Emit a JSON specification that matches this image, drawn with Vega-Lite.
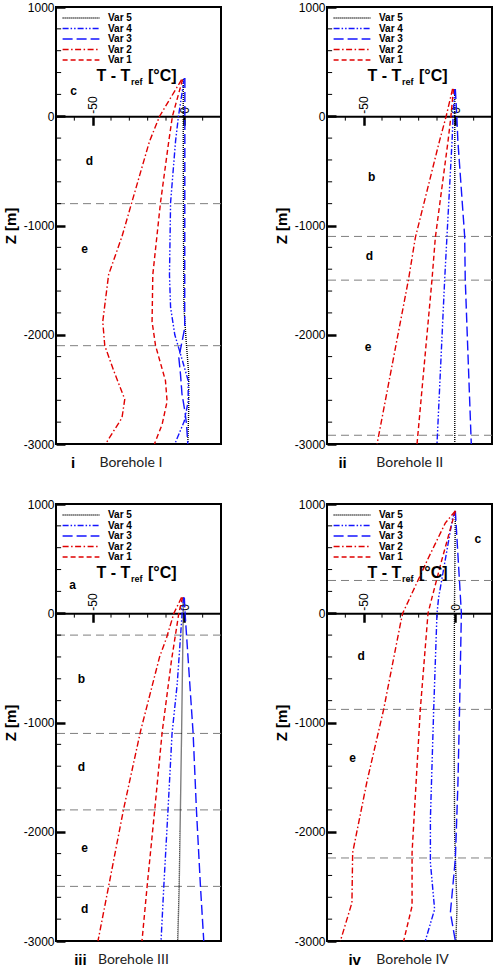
{
"$schema":"https://vega.github.io/schema/vega-lite/v6.json",
"padding":{"left":2,"top":0,"right":2,"bottom":0},
"config":{"view":{"stroke":"black","strokeWidth":2},"font":"Liberation Sans","axis":{"labelOverlap":false,"labelFlush":false,"grid":false}},
"datasets":{
"lines":[
{"panel":1,"var":"Var 5","z":340,"t":-0.6},{"panel":1,"var":"Var 5","z":0,"t":-0.6},{"panel":1,"var":"Var 5","z":-1000,"t":-0.5},{"panel":1,"var":"Var 5","z":-1750,"t":-0.2},{"panel":1,"var":"Var 5","z":-2060,"t":1.0},{"panel":1,"var":"Var 5","z":-2360,"t":2.4},{"panel":1,"var":"Var 5","z":-2670,"t":2.4},{"panel":1,"var":"Var 5","z":-3000,"t":1.9},
{"panel":1,"var":"Var 4","z":350,"t":0},{"panel":1,"var":"Var 4","z":0,"t":-3.2},{"panel":1,"var":"Var 4","z":-230,"t":-4.8},{"panel":1,"var":"Var 4","z":-790,"t":-7.5},{"panel":1,"var":"Var 4","z":-1450,"t":-8.1},{"panel":1,"var":"Var 4","z":-1750,"t":-7.5},{"panel":1,"var":"Var 4","z":-2000,"t":-5.2},{"panel":1,"var":"Var 4","z":-2210,"t":-1.5},{"panel":1,"var":"Var 4","z":-2420,"t":2.1},{"panel":1,"var":"Var 4","z":-2610,"t":2.1},{"panel":1,"var":"Var 4","z":-2790,"t":0},{"panel":1,"var":"Var 4","z":-3000,"t":-5.2},
{"panel":1,"var":"Var 3","z":350,"t":0.3},{"panel":1,"var":"Var 3","z":-1940,"t":0.2},{"panel":1,"var":"Var 3","z":-2210,"t":-3.0},{"panel":1,"var":"Var 3","z":-2360,"t":-2.1},{"panel":1,"var":"Var 3","z":-2540,"t":-1.3},{"panel":1,"var":"Var 3","z":-2700,"t":0.3},{"panel":1,"var":"Var 3","z":-2820,"t":1.2},{"panel":1,"var":"Var 3","z":-3000,"t":1.9},
{"panel":1,"var":"Var 2","z":335,"t":-1.5},{"panel":1,"var":"Var 2","z":0,"t":-13.5},{"panel":1,"var":"Var 2","z":-230,"t":-19},{"panel":1,"var":"Var 2","z":-780,"t":-28.5},{"panel":1,"var":"Var 2","z":-1100,"t":-34},{"panel":1,"var":"Var 2","z":-1450,"t":-41.3},{"panel":1,"var":"Var 2","z":-1880,"t":-44.5},{"panel":1,"var":"Var 2","z":-2100,"t":-43.4},{"panel":1,"var":"Var 2","z":-2330,"t":-38.5},{"panel":1,"var":"Var 2","z":-2590,"t":-32.5},{"panel":1,"var":"Var 2","z":-2760,"t":-34},{"panel":1,"var":"Var 2","z":-3000,"t":-43},
{"panel":1,"var":"Var 1","z":335,"t":-1},{"panel":1,"var":"Var 1","z":0,"t":-6.5},{"panel":1,"var":"Var 1","z":-230,"t":-8.5},{"panel":1,"var":"Var 1","z":-790,"t":-13},{"panel":1,"var":"Var 1","z":-1450,"t":-17.2},{"panel":1,"var":"Var 1","z":-1880,"t":-17.6},{"panel":1,"var":"Var 1","z":-2100,"t":-15.7},{"panel":1,"var":"Var 1","z":-2420,"t":-10.3},{"panel":1,"var":"Var 1","z":-2610,"t":-9.4},{"panel":1,"var":"Var 1","z":-2820,"t":-12.1},{"panel":1,"var":"Var 1","z":-3000,"t":-16.3},
{"panel":2,"var":"Var 5","z":250,"t":-0.3},{"panel":2,"var":"Var 5","z":-3000,"t":-0.3},
{"panel":2,"var":"Var 4","z":250,"t":-0.3},{"panel":2,"var":"Var 4","z":0,"t":-1.2},{"panel":2,"var":"Var 4","z":-230,"t":-1.8},{"panel":2,"var":"Var 4","z":-1110,"t":-4.6},{"panel":2,"var":"Var 4","z":-1490,"t":-5.8},{"panel":2,"var":"Var 4","z":-3000,"t":-10},
{"panel":2,"var":"Var 3","z":250,"t":0},{"panel":2,"var":"Var 3","z":0,"t":0.8},{"panel":2,"var":"Var 3","z":-230,"t":1.4},{"panel":2,"var":"Var 3","z":-1100,"t":5.1},{"panel":2,"var":"Var 3","z":-1490,"t":5.4},{"panel":2,"var":"Var 3","z":-2000,"t":6.5},{"panel":2,"var":"Var 3","z":-3000,"t":8.7},
{"panel":2,"var":"Var 2","z":250,"t":-1.5},{"panel":2,"var":"Var 2","z":0,"t":-5},{"panel":2,"var":"Var 2","z":-230,"t":-8.7},{"panel":2,"var":"Var 2","z":-1110,"t":-21.8},{"panel":2,"var":"Var 2","z":-1490,"t":-25.5},{"panel":2,"var":"Var 2","z":-3000,"t":-42.7},
{"panel":2,"var":"Var 1","z":250,"t":-1},{"panel":2,"var":"Var 1","z":0,"t":-2.4},{"panel":2,"var":"Var 1","z":-230,"t":-4},{"panel":2,"var":"Var 1","z":-1110,"t":-10.9},{"panel":2,"var":"Var 1","z":-1490,"t":-12.7},{"panel":2,"var":"Var 1","z":-3000,"t":-20.9},
{"panel":3,"var":"Var 5","z":145,"t":-0.6},{"panel":3,"var":"Var 5","z":0,"t":-0.6},{"panel":3,"var":"Var 5","z":-1100,"t":-1.5},{"panel":3,"var":"Var 5","z":-2500,"t":-2.8},{"panel":3,"var":"Var 5","z":-3000,"t":-3.6},
{"panel":3,"var":"Var 4","z":145,"t":-0.4},{"panel":3,"var":"Var 4","z":0,"t":-1.2},{"panel":3,"var":"Var 4","z":-650,"t":-3.9},{"panel":3,"var":"Var 4","z":-1100,"t":-6.7},{"panel":3,"var":"Var 4","z":-1800,"t":-8.9},{"panel":3,"var":"Var 4","z":-2500,"t":-11.2},{"panel":3,"var":"Var 4","z":-3000,"t":-12.7},
{"panel":3,"var":"Var 3","z":145,"t":0},{"panel":3,"var":"Var 3","z":0,"t":0.4},{"panel":3,"var":"Var 3","z":-1100,"t":4.8},{"panel":3,"var":"Var 3","z":-1800,"t":6.6},{"panel":3,"var":"Var 3","z":-2500,"t":8.8},{"panel":3,"var":"Var 3","z":-3000,"t":10.6},
{"panel":3,"var":"Var 2","z":145,"t":-1.5},{"panel":3,"var":"Var 2","z":0,"t":-5.7},{"panel":3,"var":"Var 2","z":-220,"t":-9.6},{"panel":3,"var":"Var 2","z":-400,"t":-13.5},{"panel":3,"var":"Var 2","z":-1080,"t":-23.9},{"panel":3,"var":"Var 2","z":-1790,"t":-33.1},{"panel":3,"var":"Var 2","z":-2500,"t":-41.3},{"panel":3,"var":"Var 2","z":-3000,"t":-47.1},
{"panel":3,"var":"Var 1","z":145,"t":-1},{"panel":3,"var":"Var 1","z":0,"t":-3},{"panel":3,"var":"Var 1","z":-430,"t":-7},{"panel":3,"var":"Var 1","z":-1090,"t":-12.1},{"panel":3,"var":"Var 1","z":-1790,"t":-16.1},{"panel":3,"var":"Var 1","z":-2500,"t":-20.3},{"panel":3,"var":"Var 1","z":-3000,"t":-23.1},
{"panel":4,"var":"Var 5","z":937,"t":0},{"panel":4,"var":"Var 5","z":0,"t":-0.5},{"panel":4,"var":"Var 5","z":-1000,"t":-0.7},{"panel":4,"var":"Var 5","z":-2000,"t":-0.4},{"panel":4,"var":"Var 5","z":-2700,"t":0.9},{"panel":4,"var":"Var 5","z":-3000,"t":0.3},
{"panel":4,"var":"Var 4","z":937,"t":0},{"panel":4,"var":"Var 4","z":870,"t":-1.5},{"panel":4,"var":"Var 4","z":145,"t":-9.1},{"panel":4,"var":"Var 4","z":0,"t":-10},{"panel":4,"var":"Var 4","z":-880,"t":-11.8},{"panel":4,"var":"Var 4","z":-1880,"t":-13.6},{"panel":4,"var":"Var 4","z":-2280,"t":-13.6},{"panel":4,"var":"Var 4","z":-2710,"t":-11.3},{"panel":4,"var":"Var 4","z":-3000,"t":-16.4},
{"panel":4,"var":"Var 3","z":937,"t":0},{"panel":4,"var":"Var 3","z":0,"t":3.3},{"panel":4,"var":"Var 3","z":-880,"t":2.3},{"panel":4,"var":"Var 3","z":-1570,"t":1.4},{"panel":4,"var":"Var 3","z":-2250,"t":0},{"panel":4,"var":"Var 3","z":-2740,"t":-2.7},{"panel":4,"var":"Var 3","z":-3000,"t":0},
{"panel":4,"var":"Var 2","z":937,"t":0},{"panel":4,"var":"Var 2","z":825,"t":-5.5},{"panel":4,"var":"Var 2","z":510,"t":-14.6},{"panel":4,"var":"Var 2","z":0,"t":-28.7},{"panel":4,"var":"Var 2","z":-100,"t":-30},{"panel":4,"var":"Var 2","z":-880,"t":-39.1},{"panel":4,"var":"Var 2","z":-1540,"t":-48.2},{"panel":4,"var":"Var 2","z":-2190,"t":-56},{"panel":4,"var":"Var 2","z":-2650,"t":-56.4},{"panel":4,"var":"Var 2","z":-3000,"t":-62.7},
{"panel":4,"var":"Var 1","z":937,"t":0},{"panel":4,"var":"Var 1","z":480,"t":-7.5},{"panel":4,"var":"Var 1","z":145,"t":-12.7},{"panel":4,"var":"Var 1","z":0,"t":-14.9},{"panel":4,"var":"Var 1","z":-880,"t":-19.1},{"panel":4,"var":"Var 1","z":-2190,"t":-23.6},{"panel":4,"var":"Var 1","z":-2680,"t":-23.6},{"panel":4,"var":"Var 1","z":-3000,"t":-28.2}
],
"bounds":[
{"panel":1,"z":-800},{"panel":1,"z":-2100},
{"panel":2,"z":-1100},{"panel":2,"z":-1500},{"panel":2,"z":-2920},
{"panel":3,"z":-200},{"panel":3,"z":-1100},{"panel":3,"z":-1800},{"panel":3,"z":-2500},
{"panel":4,"z":300},{"panel":4,"z":-880},{"panel":4,"z":-2240}
],
"yticks":[{"z":-2800},{"z":-2600},{"z":-2400},{"z":-2200},{"z":-1800},{"z":-1600},{"z":-1400},{"z":-1200},{"z":-800},{"z":-600},{"z":-400},{"z":-200},{"z":200},{"z":400},{"z":600},{"z":800}],
"xticks":[{"t":-60},{"t":-40},{"t":-30},{"t":-20},{"t":-10},{"t":10}],
"labels":[
{"panel":1,"label":"c","t":-60.4,"z":229},{"panel":1,"label":"d","t":-51.8,"z":-406},{"panel":1,"label":"e","t":-54.4,"z":-1211},
{"panel":2,"label":"b","t":-45.7,"z":-558},{"panel":2,"label":"d","t":-46.8,"z":-1281},{"panel":2,"label":"e","t":-47.6,"z":-2114},
{"panel":3,"label":"a","t":-61,"z":260},{"panel":3,"label":"b","t":-56.2,"z":-600},{"panel":3,"label":"d","t":-56.2,"z":-1409},{"panel":3,"label":"e","t":-54.4,"z":-2148},{"panel":3,"label":"d","t":-54.4,"z":-2708},
{"panel":4,"label":"c","t":12.3,"z":680},{"panel":4,"label":"d","t":-51.3,"z":-394},{"panel":4,"label":"e","t":-56,"z":-1323}
],
"ttl":[
{"piece":"main","text":"T - T","t":-29.5,"z":320},{"piece":"sub","text":"ref","t":-29.1,"z":320},{"piece":"unit","text":"[°C]","t":-19.8,"z":320}
],
"captions":[
{"panel":1,"roman":"i","rx":-60.7,"name":"Borehole I","nx":-46.3,"z":-3170},
{"panel":2,"roman":"ii","rx":-61.5,"name":"Borehole II","nx":-43.1,"z":-3170},
{"panel":3,"roman":"iii","rx":-56.7,"name":"Borehole III","nx":-47.1,"z":-3170},
{"panel":4,"roman":"iv","rx":-54.9,"name":"Borehole IV","nx":-43.1,"z":-3170}
]
},
"spacing":25,
"resolve":{"scale":{"x":"independent","y":"independent","color":"independent","strokeDash":"independent"},"legend":{"color":"independent","strokeDash":"independent"}},
"vconcat":[
{"spacing":50,
"resolve":{"scale":{"x":"independent","y":"independent","color":"independent","strokeDash":"independent"},"legend":{"color":"independent","strokeDash":"independent"}},
"hconcat":[
{"width":165,"height":437,"layer":[
{"data":{"name":"bounds"},"transform":[{"filter":"datum.panel === 1"}],"mark":{"type":"rule","color":"#7f7f7f","strokeWidth":1,"strokeDash":[8,5]},"encoding":{"y":{"field":"z","type":"quantitative","scale":{"domain":[-3000,1000],"nice":false,"zero":false}}}},
{"data":{"name":"yticks"},"mark":{"type":"rule","color":"black","strokeWidth":1},"encoding":{"y":{"field":"z","type":"quantitative","scale":{"domain":[-3000,1000],"nice":false,"zero":false}},"x":{"datum":-70,"type":"quantitative","scale":{"domain":[-70,20],"nice":false,"zero":false}},"x2":{"datum":-67.2}}},
{"data":{"name":"xticks"},"mark":{"type":"rule","color":"black","strokeWidth":1},"encoding":{"x":{"field":"t","type":"quantitative","scale":{"domain":[-70,20],"nice":false,"zero":false}},"y":{"datum":0,"type":"quantitative","scale":{"domain":[-3000,1000],"nice":false,"zero":false}},"y2":{"datum":-40}}},
{"data":{"name":"lines"},"transform":[{"filter":"datum.panel === 1"}],"mark":{"type":"line","strokeWidth":1.4},"encoding":{
"x":{"field":"t","type":"quantitative","scale":{"domain":[-70,20],"nice":false,"zero":false},"axis":{"orient":"top","offset":-109.25,"values":[-50,0],"labelExpr":"'' + datum.value","labelAngle":-90,"labelAlign":"left","labelBaseline":"middle","labelFontSize":12,"labelColor":"black","labelPadding":12,"labelFlush":false,"labelOverlap":false,"tickSize":-9,"tickWidth":2.5,"tickColor":"black","domainColor":"black","domainWidth":2,"grid":false,"title":null}},
"y":{"field":"z","type":"quantitative","scale":{"domain":[-3000,1000],"nice":false,"zero":false},"axis":{"orient":"left","values":[-3000,-2000,-1000,0,1000],"labelExpr":"'' + datum.value","labelFontSize":12,"labelColor":"black","labelPadding":11,"labelFlush":false,"labelOverlap":false,"tickSize":-9,"tickWidth":2.5,"tickColor":"black","domain":false,"grid":false,"title":"Z [m]","titleFontSize":15,"titleFontWeight":"bold","titleColor":"black","titlePadding":5}},
"color":{"field":"var","type":"nominal","scale":{"domain":["Var 5","Var 4","Var 3","Var 2","Var 1"],"range":["#000000","#1414ff","#1414ff","#e00000","#e00000"]},"legend":{"title":null,"orient":"none","legendX":20,"legendY":6,"padding":0,"symbolType":"M-4.6,0H4.6","symbolSize":64,"symbolStrokeWidth":1.5,"labelFontSize":10,"labelFontWeight":"bold","labelColor":"black","labelOffset":22,"rowPadding":0.5}},
"strokeDash":{"field":"var","type":"nominal","scale":{"domain":["Var 5","Var 4","Var 3","Var 2","Var 1"],"range":[[1,1],[6,2,1.5,2,1.5,2],[10,4],[6,2.5,1.5,2.5],[5,3]]},"legend":{"title":null,"orient":"none","legendX":20,"legendY":6,"padding":0,"symbolType":"M-4.6,0H4.6","symbolSize":64,"symbolStrokeWidth":1.5,"labelFontSize":10,"labelFontWeight":"bold","labelColor":"black","labelOffset":22,"rowPadding":0.5}},
"order":{"field":"z","type":"quantitative","sort":"descending"}}},
{"data":{"name":"labels"},"transform":[{"filter":"datum.panel === 1"}],"mark":{"type":"text","fontWeight":"bold","fontSize":12,"color":"black"},"encoding":{"x":{"field":"t","type":"quantitative","scale":{"domain":[-70,20],"nice":false,"zero":false}},"y":{"field":"z","type":"quantitative","scale":{"domain":[-3000,1000],"nice":false,"zero":false}},"text":{"field":"label"}}},
{"data":{"name":"ttl"},"transform":[{"filter":"datum.piece === 'main'"}],"mark":{"type":"text","fontWeight":"bold","fontSize":16,"align":"right","baseline":"alphabetic","color":"black"},"encoding":{"x":{"field":"t","type":"quantitative","scale":{"domain":[-70,20],"nice":false,"zero":false}},"y":{"field":"z","type":"quantitative","scale":{"domain":[-3000,1000],"nice":false,"zero":false}},"text":{"field":"text"}}},
{"data":{"name":"ttl"},"transform":[{"filter":"datum.piece === 'sub'"}],"mark":{"type":"text","fontWeight":"bold","fontSize":9,"align":"left","baseline":"alphabetic","dy":4,"color":"black"},"encoding":{"x":{"field":"t","type":"quantitative","scale":{"domain":[-70,20],"nice":false,"zero":false}},"y":{"field":"z","type":"quantitative","scale":{"domain":[-3000,1000],"nice":false,"zero":false}},"text":{"field":"text"}}},
{"data":{"name":"ttl"},"transform":[{"filter":"datum.piece === 'unit'"}],"mark":{"type":"text","fontWeight":"bold","fontSize":16,"align":"left","baseline":"alphabetic","color":"black"},"encoding":{"x":{"field":"t","type":"quantitative","scale":{"domain":[-70,20],"nice":false,"zero":false}},"y":{"field":"z","type":"quantitative","scale":{"domain":[-3000,1000],"nice":false,"zero":false}},"text":{"field":"text"}}},
{"data":{"name":"captions"},"transform":[{"filter":"datum.panel === 1"}],"mark":{"type":"text","fontWeight":"bold","fontSize":15,"align":"center","baseline":"middle","color":"black"},"encoding":{"x":{"field":"rx","type":"quantitative","scale":{"domain":[-70,20],"nice":false,"zero":false}},"y":{"field":"z","type":"quantitative","scale":{"domain":[-3000,1000],"nice":false,"zero":false}},"text":{"field":"roman"}}},
{"data":{"name":"captions"},"transform":[{"filter":"datum.panel === 1"}],"mark":{"type":"text","font":"Lato","fontSize":14,"align":"left","baseline":"middle","color":"#222222"},"encoding":{"x":{"field":"nx","type":"quantitative","scale":{"domain":[-70,20],"nice":false,"zero":false}},"y":{"field":"z","type":"quantitative","scale":{"domain":[-3000,1000],"nice":false,"zero":false}},"text":{"field":"name"}}}
]},
{"width":165,"height":437,"layer":[
{"data":{"name":"bounds"},"transform":[{"filter":"datum.panel === 2"}],"mark":{"type":"rule","color":"#7f7f7f","strokeWidth":1,"strokeDash":[8,5]},"encoding":{"y":{"field":"z","type":"quantitative","scale":{"domain":[-3000,1000],"nice":false,"zero":false}}}},
{"data":{"name":"yticks"},"mark":{"type":"rule","color":"black","strokeWidth":1},"encoding":{"y":{"field":"z","type":"quantitative","scale":{"domain":[-3000,1000],"nice":false,"zero":false}},"x":{"datum":-70,"type":"quantitative","scale":{"domain":[-70,20],"nice":false,"zero":false}},"x2":{"datum":-67.2}}},
{"data":{"name":"xticks"},"mark":{"type":"rule","color":"black","strokeWidth":1},"encoding":{"x":{"field":"t","type":"quantitative","scale":{"domain":[-70,20],"nice":false,"zero":false}},"y":{"datum":0,"type":"quantitative","scale":{"domain":[-3000,1000],"nice":false,"zero":false}},"y2":{"datum":-40}}},
{"data":{"name":"lines"},"transform":[{"filter":"datum.panel === 2"}],"mark":{"type":"line","strokeWidth":1.4},"encoding":{
"x":{"field":"t","type":"quantitative","scale":{"domain":[-70,20],"nice":false,"zero":false},"axis":{"orient":"top","offset":-109.25,"values":[-50,0],"labelExpr":"'' + datum.value","labelAngle":-90,"labelAlign":"left","labelBaseline":"middle","labelFontSize":12,"labelColor":"black","labelPadding":12,"labelFlush":false,"labelOverlap":false,"tickSize":-9,"tickWidth":2.5,"tickColor":"black","domainColor":"black","domainWidth":2,"grid":false,"title":null}},
"y":{"field":"z","type":"quantitative","scale":{"domain":[-3000,1000],"nice":false,"zero":false},"axis":{"orient":"left","values":[-3000,-2000,-1000,0,1000],"labelExpr":"'' + datum.value","labelFontSize":12,"labelColor":"black","labelPadding":11,"labelFlush":false,"labelOverlap":false,"tickSize":-9,"tickWidth":2.5,"tickColor":"black","domain":false,"grid":false,"title":"Z [m]","titleFontSize":15,"titleFontWeight":"bold","titleColor":"black","titlePadding":5}},
"color":{"field":"var","type":"nominal","scale":{"domain":["Var 5","Var 4","Var 3","Var 2","Var 1"],"range":["#000000","#1414ff","#1414ff","#e00000","#e00000"]},"legend":{"title":null,"orient":"none","legendX":20,"legendY":6,"padding":0,"symbolType":"M-4.6,0H4.6","symbolSize":64,"symbolStrokeWidth":1.5,"labelFontSize":10,"labelFontWeight":"bold","labelColor":"black","labelOffset":22,"rowPadding":0.5}},
"strokeDash":{"field":"var","type":"nominal","scale":{"domain":["Var 5","Var 4","Var 3","Var 2","Var 1"],"range":[[1,1],[6,2,1.5,2,1.5,2],[10,4],[6,2.5,1.5,2.5],[5,3]]},"legend":{"title":null,"orient":"none","legendX":20,"legendY":6,"padding":0,"symbolType":"M-4.6,0H4.6","symbolSize":64,"symbolStrokeWidth":1.5,"labelFontSize":10,"labelFontWeight":"bold","labelColor":"black","labelOffset":22,"rowPadding":0.5}},
"order":{"field":"z","type":"quantitative","sort":"descending"}}},
{"data":{"name":"labels"},"transform":[{"filter":"datum.panel === 2"}],"mark":{"type":"text","fontWeight":"bold","fontSize":12,"color":"black"},"encoding":{"x":{"field":"t","type":"quantitative","scale":{"domain":[-70,20],"nice":false,"zero":false}},"y":{"field":"z","type":"quantitative","scale":{"domain":[-3000,1000],"nice":false,"zero":false}},"text":{"field":"label"}}},
{"data":{"name":"ttl"},"transform":[{"filter":"datum.piece === 'main'"}],"mark":{"type":"text","fontWeight":"bold","fontSize":16,"align":"right","baseline":"alphabetic","color":"black"},"encoding":{"x":{"field":"t","type":"quantitative","scale":{"domain":[-70,20],"nice":false,"zero":false}},"y":{"field":"z","type":"quantitative","scale":{"domain":[-3000,1000],"nice":false,"zero":false}},"text":{"field":"text"}}},
{"data":{"name":"ttl"},"transform":[{"filter":"datum.piece === 'sub'"}],"mark":{"type":"text","fontWeight":"bold","fontSize":9,"align":"left","baseline":"alphabetic","dy":4,"color":"black"},"encoding":{"x":{"field":"t","type":"quantitative","scale":{"domain":[-70,20],"nice":false,"zero":false}},"y":{"field":"z","type":"quantitative","scale":{"domain":[-3000,1000],"nice":false,"zero":false}},"text":{"field":"text"}}},
{"data":{"name":"ttl"},"transform":[{"filter":"datum.piece === 'unit'"}],"mark":{"type":"text","fontWeight":"bold","fontSize":16,"align":"left","baseline":"alphabetic","color":"black"},"encoding":{"x":{"field":"t","type":"quantitative","scale":{"domain":[-70,20],"nice":false,"zero":false}},"y":{"field":"z","type":"quantitative","scale":{"domain":[-3000,1000],"nice":false,"zero":false}},"text":{"field":"text"}}},
{"data":{"name":"captions"},"transform":[{"filter":"datum.panel === 2"}],"mark":{"type":"text","fontWeight":"bold","fontSize":15,"align":"center","baseline":"middle","color":"black"},"encoding":{"x":{"field":"rx","type":"quantitative","scale":{"domain":[-70,20],"nice":false,"zero":false}},"y":{"field":"z","type":"quantitative","scale":{"domain":[-3000,1000],"nice":false,"zero":false}},"text":{"field":"roman"}}},
{"data":{"name":"captions"},"transform":[{"filter":"datum.panel === 2"}],"mark":{"type":"text","font":"Lato","fontSize":14,"align":"left","baseline":"middle","color":"#222222"},"encoding":{"x":{"field":"nx","type":"quantitative","scale":{"domain":[-70,20],"nice":false,"zero":false}},"y":{"field":"z","type":"quantitative","scale":{"domain":[-3000,1000],"nice":false,"zero":false}},"text":{"field":"name"}}}
]}
]},
{"spacing":50,
"resolve":{"scale":{"x":"independent","y":"independent","color":"independent","strokeDash":"independent"},"legend":{"color":"independent","strokeDash":"independent"}},
"hconcat":[
{"width":165,"height":437,"layer":[
{"data":{"name":"bounds"},"transform":[{"filter":"datum.panel === 3"}],"mark":{"type":"rule","color":"#7f7f7f","strokeWidth":1,"strokeDash":[8,5]},"encoding":{"y":{"field":"z","type":"quantitative","scale":{"domain":[-3000,1000],"nice":false,"zero":false}}}},
{"data":{"name":"yticks"},"mark":{"type":"rule","color":"black","strokeWidth":1},"encoding":{"y":{"field":"z","type":"quantitative","scale":{"domain":[-3000,1000],"nice":false,"zero":false}},"x":{"datum":-70,"type":"quantitative","scale":{"domain":[-70,20],"nice":false,"zero":false}},"x2":{"datum":-67.2}}},
{"data":{"name":"xticks"},"mark":{"type":"rule","color":"black","strokeWidth":1},"encoding":{"x":{"field":"t","type":"quantitative","scale":{"domain":[-70,20],"nice":false,"zero":false}},"y":{"datum":0,"type":"quantitative","scale":{"domain":[-3000,1000],"nice":false,"zero":false}},"y2":{"datum":-40}}},
{"data":{"name":"lines"},"transform":[{"filter":"datum.panel === 3"}],"mark":{"type":"line","strokeWidth":1.4},"encoding":{
"x":{"field":"t","type":"quantitative","scale":{"domain":[-70,20],"nice":false,"zero":false},"axis":{"orient":"top","offset":-109.25,"values":[-50,0],"labelExpr":"'' + datum.value","labelAngle":-90,"labelAlign":"left","labelBaseline":"middle","labelFontSize":12,"labelColor":"black","labelPadding":12,"labelFlush":false,"labelOverlap":false,"tickSize":-9,"tickWidth":2.5,"tickColor":"black","domainColor":"black","domainWidth":2,"grid":false,"title":null}},
"y":{"field":"z","type":"quantitative","scale":{"domain":[-3000,1000],"nice":false,"zero":false},"axis":{"orient":"left","values":[-3000,-2000,-1000,0,1000],"labelExpr":"'' + datum.value","labelFontSize":12,"labelColor":"black","labelPadding":11,"labelFlush":false,"labelOverlap":false,"tickSize":-9,"tickWidth":2.5,"tickColor":"black","domain":false,"grid":false,"title":"Z [m]","titleFontSize":15,"titleFontWeight":"bold","titleColor":"black","titlePadding":5}},
"color":{"field":"var","type":"nominal","scale":{"domain":["Var 5","Var 4","Var 3","Var 2","Var 1"],"range":["#000000","#1414ff","#1414ff","#e00000","#e00000"]},"legend":{"title":null,"orient":"none","legendX":20,"legendY":6,"padding":0,"symbolType":"M-4.6,0H4.6","symbolSize":64,"symbolStrokeWidth":1.5,"labelFontSize":10,"labelFontWeight":"bold","labelColor":"black","labelOffset":22,"rowPadding":0.5}},
"strokeDash":{"field":"var","type":"nominal","scale":{"domain":["Var 5","Var 4","Var 3","Var 2","Var 1"],"range":[[1,1],[6,2,1.5,2,1.5,2],[10,4],[6,2.5,1.5,2.5],[5,3]]},"legend":{"title":null,"orient":"none","legendX":20,"legendY":6,"padding":0,"symbolType":"M-4.6,0H4.6","symbolSize":64,"symbolStrokeWidth":1.5,"labelFontSize":10,"labelFontWeight":"bold","labelColor":"black","labelOffset":22,"rowPadding":0.5}},
"order":{"field":"z","type":"quantitative","sort":"descending"}}},
{"data":{"name":"labels"},"transform":[{"filter":"datum.panel === 3"}],"mark":{"type":"text","fontWeight":"bold","fontSize":12,"color":"black"},"encoding":{"x":{"field":"t","type":"quantitative","scale":{"domain":[-70,20],"nice":false,"zero":false}},"y":{"field":"z","type":"quantitative","scale":{"domain":[-3000,1000],"nice":false,"zero":false}},"text":{"field":"label"}}},
{"data":{"name":"ttl"},"transform":[{"filter":"datum.piece === 'main'"}],"mark":{"type":"text","fontWeight":"bold","fontSize":16,"align":"right","baseline":"alphabetic","color":"black"},"encoding":{"x":{"field":"t","type":"quantitative","scale":{"domain":[-70,20],"nice":false,"zero":false}},"y":{"field":"z","type":"quantitative","scale":{"domain":[-3000,1000],"nice":false,"zero":false}},"text":{"field":"text"}}},
{"data":{"name":"ttl"},"transform":[{"filter":"datum.piece === 'sub'"}],"mark":{"type":"text","fontWeight":"bold","fontSize":9,"align":"left","baseline":"alphabetic","dy":4,"color":"black"},"encoding":{"x":{"field":"t","type":"quantitative","scale":{"domain":[-70,20],"nice":false,"zero":false}},"y":{"field":"z","type":"quantitative","scale":{"domain":[-3000,1000],"nice":false,"zero":false}},"text":{"field":"text"}}},
{"data":{"name":"ttl"},"transform":[{"filter":"datum.piece === 'unit'"}],"mark":{"type":"text","fontWeight":"bold","fontSize":16,"align":"left","baseline":"alphabetic","color":"black"},"encoding":{"x":{"field":"t","type":"quantitative","scale":{"domain":[-70,20],"nice":false,"zero":false}},"y":{"field":"z","type":"quantitative","scale":{"domain":[-3000,1000],"nice":false,"zero":false}},"text":{"field":"text"}}},
{"data":{"name":"captions"},"transform":[{"filter":"datum.panel === 3"}],"mark":{"type":"text","fontWeight":"bold","fontSize":15,"align":"center","baseline":"middle","color":"black"},"encoding":{"x":{"field":"rx","type":"quantitative","scale":{"domain":[-70,20],"nice":false,"zero":false}},"y":{"field":"z","type":"quantitative","scale":{"domain":[-3000,1000],"nice":false,"zero":false}},"text":{"field":"roman"}}},
{"data":{"name":"captions"},"transform":[{"filter":"datum.panel === 3"}],"mark":{"type":"text","font":"Lato","fontSize":14,"align":"left","baseline":"middle","color":"#222222"},"encoding":{"x":{"field":"nx","type":"quantitative","scale":{"domain":[-70,20],"nice":false,"zero":false}},"y":{"field":"z","type":"quantitative","scale":{"domain":[-3000,1000],"nice":false,"zero":false}},"text":{"field":"name"}}}
]},
{"width":165,"height":437,"layer":[
{"data":{"name":"bounds"},"transform":[{"filter":"datum.panel === 4"}],"mark":{"type":"rule","color":"#7f7f7f","strokeWidth":1,"strokeDash":[8,5]},"encoding":{"y":{"field":"z","type":"quantitative","scale":{"domain":[-3000,1000],"nice":false,"zero":false}}}},
{"data":{"name":"yticks"},"mark":{"type":"rule","color":"black","strokeWidth":1},"encoding":{"y":{"field":"z","type":"quantitative","scale":{"domain":[-3000,1000],"nice":false,"zero":false}},"x":{"datum":-70,"type":"quantitative","scale":{"domain":[-70,20],"nice":false,"zero":false}},"x2":{"datum":-67.2}}},
{"data":{"name":"xticks"},"mark":{"type":"rule","color":"black","strokeWidth":1},"encoding":{"x":{"field":"t","type":"quantitative","scale":{"domain":[-70,20],"nice":false,"zero":false}},"y":{"datum":0,"type":"quantitative","scale":{"domain":[-3000,1000],"nice":false,"zero":false}},"y2":{"datum":-40}}},
{"data":{"name":"lines"},"transform":[{"filter":"datum.panel === 4"}],"mark":{"type":"line","strokeWidth":1.4},"encoding":{
"x":{"field":"t","type":"quantitative","scale":{"domain":[-70,20],"nice":false,"zero":false},"axis":{"orient":"top","offset":-109.25,"values":[-50,0],"labelExpr":"'' + datum.value","labelAngle":-90,"labelAlign":"left","labelBaseline":"middle","labelFontSize":12,"labelColor":"black","labelPadding":12,"labelFlush":false,"labelOverlap":false,"tickSize":-9,"tickWidth":2.5,"tickColor":"black","domainColor":"black","domainWidth":2,"grid":false,"title":null}},
"y":{"field":"z","type":"quantitative","scale":{"domain":[-3000,1000],"nice":false,"zero":false},"axis":{"orient":"left","values":[-3000,-2000,-1000,0,1000],"labelExpr":"'' + datum.value","labelFontSize":12,"labelColor":"black","labelPadding":11,"labelFlush":false,"labelOverlap":false,"tickSize":-9,"tickWidth":2.5,"tickColor":"black","domain":false,"grid":false,"title":"Z [m]","titleFontSize":15,"titleFontWeight":"bold","titleColor":"black","titlePadding":5}},
"color":{"field":"var","type":"nominal","scale":{"domain":["Var 5","Var 4","Var 3","Var 2","Var 1"],"range":["#000000","#1414ff","#1414ff","#e00000","#e00000"]},"legend":{"title":null,"orient":"none","legendX":20,"legendY":6,"padding":0,"symbolType":"M-4.6,0H4.6","symbolSize":64,"symbolStrokeWidth":1.5,"labelFontSize":10,"labelFontWeight":"bold","labelColor":"black","labelOffset":22,"rowPadding":0.5}},
"strokeDash":{"field":"var","type":"nominal","scale":{"domain":["Var 5","Var 4","Var 3","Var 2","Var 1"],"range":[[1,1],[6,2,1.5,2,1.5,2],[10,4],[6,2.5,1.5,2.5],[5,3]]},"legend":{"title":null,"orient":"none","legendX":20,"legendY":6,"padding":0,"symbolType":"M-4.6,0H4.6","symbolSize":64,"symbolStrokeWidth":1.5,"labelFontSize":10,"labelFontWeight":"bold","labelColor":"black","labelOffset":22,"rowPadding":0.5}},
"order":{"field":"z","type":"quantitative","sort":"descending"}}},
{"data":{"name":"labels"},"transform":[{"filter":"datum.panel === 4"}],"mark":{"type":"text","fontWeight":"bold","fontSize":12,"color":"black"},"encoding":{"x":{"field":"t","type":"quantitative","scale":{"domain":[-70,20],"nice":false,"zero":false}},"y":{"field":"z","type":"quantitative","scale":{"domain":[-3000,1000],"nice":false,"zero":false}},"text":{"field":"label"}}},
{"data":{"name":"ttl"},"transform":[{"filter":"datum.piece === 'main'"}],"mark":{"type":"text","fontWeight":"bold","fontSize":16,"align":"right","baseline":"alphabetic","color":"black"},"encoding":{"x":{"field":"t","type":"quantitative","scale":{"domain":[-70,20],"nice":false,"zero":false}},"y":{"field":"z","type":"quantitative","scale":{"domain":[-3000,1000],"nice":false,"zero":false}},"text":{"field":"text"}}},
{"data":{"name":"ttl"},"transform":[{"filter":"datum.piece === 'sub'"}],"mark":{"type":"text","fontWeight":"bold","fontSize":9,"align":"left","baseline":"alphabetic","dy":4,"color":"black"},"encoding":{"x":{"field":"t","type":"quantitative","scale":{"domain":[-70,20],"nice":false,"zero":false}},"y":{"field":"z","type":"quantitative","scale":{"domain":[-3000,1000],"nice":false,"zero":false}},"text":{"field":"text"}}},
{"data":{"name":"ttl"},"transform":[{"filter":"datum.piece === 'unit'"}],"mark":{"type":"text","fontWeight":"bold","fontSize":16,"align":"left","baseline":"alphabetic","color":"black"},"encoding":{"x":{"field":"t","type":"quantitative","scale":{"domain":[-70,20],"nice":false,"zero":false}},"y":{"field":"z","type":"quantitative","scale":{"domain":[-3000,1000],"nice":false,"zero":false}},"text":{"field":"text"}}},
{"data":{"name":"captions"},"transform":[{"filter":"datum.panel === 4"}],"mark":{"type":"text","fontWeight":"bold","fontSize":15,"align":"center","baseline":"middle","color":"black"},"encoding":{"x":{"field":"rx","type":"quantitative","scale":{"domain":[-70,20],"nice":false,"zero":false}},"y":{"field":"z","type":"quantitative","scale":{"domain":[-3000,1000],"nice":false,"zero":false}},"text":{"field":"roman"}}},
{"data":{"name":"captions"},"transform":[{"filter":"datum.panel === 4"}],"mark":{"type":"text","font":"Lato","fontSize":14,"align":"left","baseline":"middle","color":"#222222"},"encoding":{"x":{"field":"nx","type":"quantitative","scale":{"domain":[-70,20],"nice":false,"zero":false}},"y":{"field":"z","type":"quantitative","scale":{"domain":[-3000,1000],"nice":false,"zero":false}},"text":{"field":"name"}}}
]}
]}
]
}
